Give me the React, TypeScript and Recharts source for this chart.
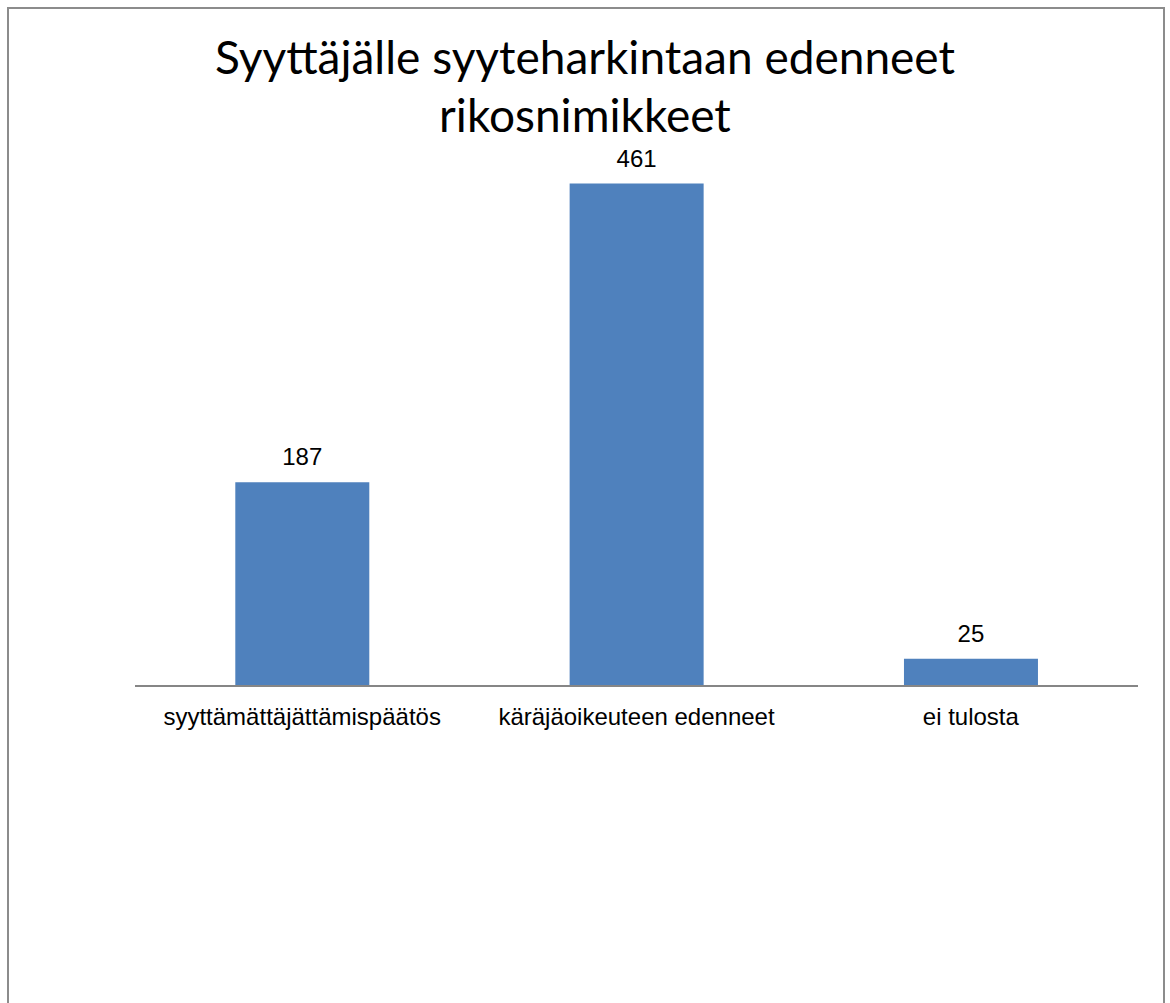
import React from 'react';
import { BarChart, Bar, XAxis, YAxis, LabelList } from 'recharts';

const categories = ['syyttämättäjättämispäätös', 'käräjäoikeuteen edenneet', 'ei tulosta'];
const counts = [187, 461, 25];
const titleLines = ['Syyttäjälle syyteharkintaan edenneet', 'rikosnimikkeet'];

const data = categories.map((name, i) => ({ name, value: counts[i] }));

const W = 1170;
const H = 1003;
const labelFont = '"Liberation Sans", Arial, sans-serif';

export default function App() {
  return (
    <div style={{ position: 'absolute', left: 0, top: 0, width: W, height: H, overflow: 'hidden', background: '#fff' }}>
      {/* chart frame, bottom edge is cut off in the reference */}
      <div
        style={{
          position: 'absolute',
          left: 7,
          top: 7,
          width: 1158,
          height: 1020,
          border: '2px solid #8c8c8c',
          boxSizing: 'border-box',
        }}
      />
      <div
        style={{
          position: 'absolute',
          left: 0,
          top: 28,
          width: W,
          textAlign: 'center',
          fontFamily: 'Lato, sans-serif',
          fontSize: 46,
          lineHeight: '58px',
          color: '#000',
        }}
      >
        {titleLines.map((t) => (
          <div key={t}>{t}</div>
        ))}
      </div>
      <div style={{ position: 'absolute', left: 0, top: 0 }}>
        <BarChart
          width={W}
          height={H}
          data={data}
          margin={{ top: 141, right: 32, bottom: 257, left: 135 }}
          barCategoryGap="30%"
        >
          <YAxis hide domain={[0, 500]} />
          <XAxis
            dataKey="name"
            height={60}
            axisLine={{ stroke: '#868686', strokeWidth: 2 }}
            tickLine={false}
            tickSize={0}
            tickMargin={22}
            interval={0}
            tick={{ fontSize: 24, fill: '#000', fontFamily: labelFont }}
          />
          <Bar dataKey="value" fill="#4F81BD" isAnimationActive={false}>
            <LabelList
              dataKey="value"
              position="top"
              offset={17}
              style={{ fontSize: 24, fill: '#000', fontFamily: labelFont }}
            />
          </Bar>
        </BarChart>
      </div>
    </div>
  );
}
